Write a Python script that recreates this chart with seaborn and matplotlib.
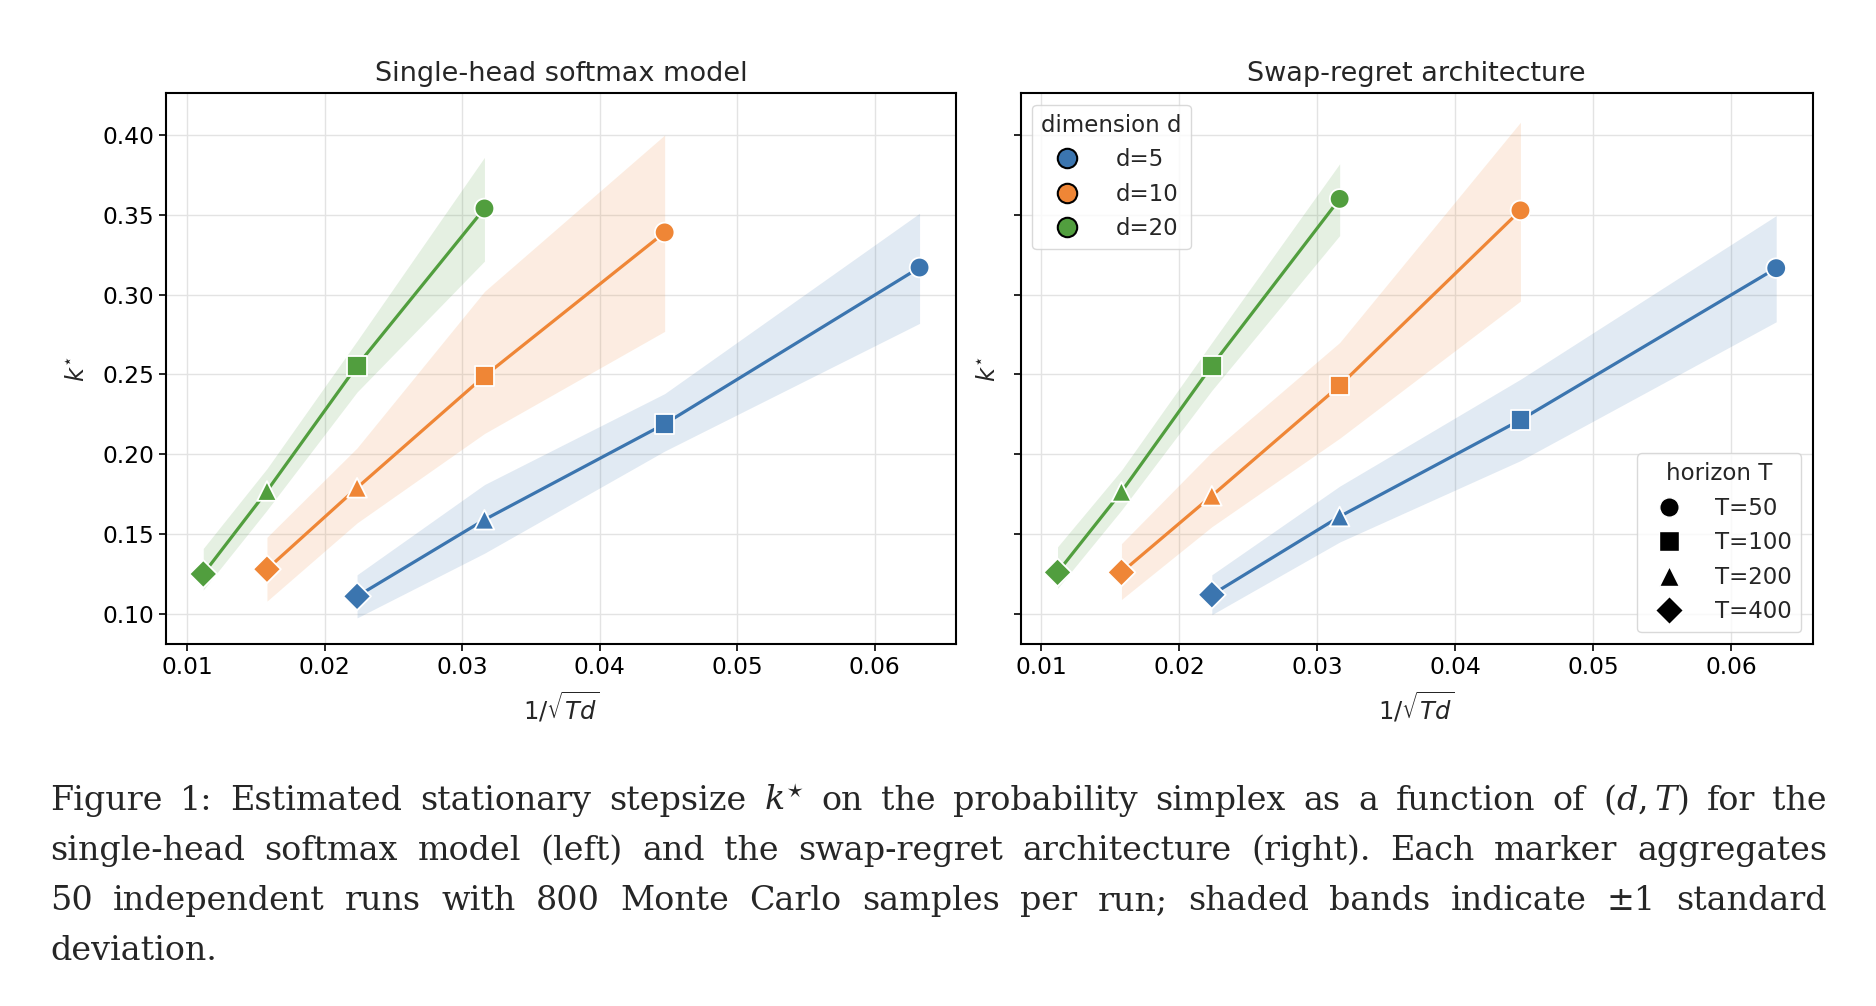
import numpy as np
import pandas as pd
import seaborn as sns
import matplotlib.pyplot as plt
from matplotlib.lines import Line2D

# x positions 1/sqrt(Td) (T = 50, 100, 200, 400)
x_d5 = [0.06325, 0.04472, 0.03162, 0.02236]
x_d10 = [0.04472, 0.03162, 0.02236, 0.01581]
x_d20 = [0.03162, 0.02236, 0.01581, 0.01118]
horizons = ["T=50", "T=100", "T=200", "T=400"]
dims = ["d=5", "d=10", "d=20"]

# single-head softmax model
left_d5 = [0.317, 0.219, 0.159, 0.111]
left_d5_lo = [0.282, 0.202, 0.138, 0.0975]
left_d5_hi = [0.351, 0.238, 0.181, 0.1245]
left_d10 = [0.339, 0.249, 0.179, 0.128]
left_d10_lo = [0.277, 0.213, 0.157, 0.108]
left_d10_hi = [0.400, 0.302, 0.204, 0.148]
left_d20 = [0.354, 0.2555, 0.177, 0.125]
left_d20_lo = [0.321, 0.239, 0.165, 0.115]
left_d20_hi = [0.386, 0.271, 0.191, 0.141]

# swap-regret architecture
right_d5 = [0.3166, 0.2215, 0.161, 0.112]
right_d5_lo = [0.283, 0.196, 0.145, 0.0995]
right_d5_hi = [0.3495, 0.247, 0.180, 0.1245]
right_d10 = [0.3528, 0.243, 0.174, 0.126]
right_d10_lo = [0.296, 0.210, 0.1546, 0.109]
right_d10_hi = [0.408, 0.270, 0.2015, 0.144]
right_d20 = [0.360, 0.2555, 0.1765, 0.126]
right_d20_lo = [0.337, 0.240, 0.165, 0.116]
right_d20_hi = [0.382, 0.270, 0.190, 0.142]

colors = ["#3b75af", "#ef8636", "#519e3e"]
marker_map = {"T=50": "o", "T=100": "s", "T=200": "^", "T=400": "D"}


def make_df(means, los, his):
    rows = []
    for d, xs, m, lo, hi in zip(dims, [x_d5, x_d10, x_d20], means, los, his):
        for T, x, y, a, b in zip(horizons, xs, m, lo, hi):
            rows.append({"x": x, "k": y, "lo": a, "hi": b, "d": d, "T": T})
    return pd.DataFrame(rows)


df_left = make_df([left_d5, left_d10, left_d20],
                  [left_d5_lo, left_d10_lo, left_d20_lo],
                  [left_d5_hi, left_d10_hi, left_d20_hi])
df_right = make_df([right_d5, right_d10, right_d20],
                   [right_d5_lo, right_d10_lo, right_d20_lo],
                   [right_d5_hi, right_d10_hi, right_d20_hi])

sns.set_theme(style="whitegrid")
plt.rcParams.update({
    "axes.edgecolor": "black",
    "axes.linewidth": 1.5,
    "grid.color": "#e3e3e3",
    "grid.linewidth": 1.0,
    "xtick.bottom": True,
    "ytick.left": True,
    "xtick.major.size": 5,
    "ytick.major.size": 5,
    "xtick.color": "black",
    "ytick.color": "black",
})
plt.rcParams["font.family"] = ["DejaVu Sans"]

fig = plt.figure(figsize=(18.76, 10.06), dpi=100)
ax1 = fig.add_axes([0.0887, 0.3601, 0.4209, 0.5474])
ax2 = fig.add_axes([0.5440, 0.3601, 0.4223, 0.5474], sharey=ax1)

palette = dict(zip(dims, colors))

for ax, df, title in [(ax1, df_left, "Single-head softmax model"),
                      (ax2, df_right, "Swap-regret architecture")]:
    for d in dims:
        sub = df[df["d"] == d].sort_values("x")
        ax.fill_between(sub["x"], sub["lo"], sub["hi"], color=palette[d],
                        alpha=0.15, linewidth=0, zorder=1)
    sns.lineplot(data=df, x="x", y="k", hue="d", hue_order=dims,
                 palette=palette, linewidth=2.3, legend=False, ax=ax,
                 sort=True, zorder=2)
    sns.scatterplot(data=df, x="x", y="k", hue="d", hue_order=dims,
                    style="T", style_order=horizons, markers=marker_map,
                    palette=palette, s=200, edgecolor="white", linewidth=1.3,
                    legend=False, ax=ax, zorder=3)
    ax.set_title(title, fontsize=19.5, pad=9)
    ax.set_xlabel(r"$1/\sqrt{Td}$", fontsize=17.5, labelpad=8)
    ax.set_ylabel(r"$k^{\star}$", fontsize=17.5, labelpad=10)
    ax.set_xlim(0.0085, 0.0659)
    ax.set_xticks([0.01, 0.02, 0.03, 0.04, 0.05, 0.06])
    ax.set_xticklabels(["0.01", "0.02", "0.03", "0.04", "0.05", "0.06"])
    ax.tick_params(labelsize=16.8, width=1.2)

ax1.set_ylim(0.0813, 0.4263)
ax1.set_yticks([0.10, 0.15, 0.20, 0.25, 0.30, 0.35, 0.40])
ax1.set_yticklabels(["0.10", "0.15", "0.20", "0.25", "0.30", "0.35", "0.40"])
ax2.tick_params(labelleft=False)

dim_handles = [Line2D([], [], marker="o", linestyle="", markersize=14,
                      markerfacecolor=c, markeredgecolor="black",
                      markeredgewidth=1.5) for c in colors]
leg1 = ax2.legend(dim_handles, dims, title="dimension d", loc="upper left",
                  fontsize=16.5, title_fontsize=16.5, frameon=True,
                  borderpad=0.4, handletextpad=1.1, labelspacing=0.5,
                  borderaxespad=0.5)
leg1.get_frame().set_edgecolor("#d0d0d0")
ax2.add_artist(leg1)

hor_handles = [Line2D([], [], marker=marker_map[T], linestyle="", markersize=14,
                      markerfacecolor="black", markeredgecolor="white",
                      markeredgewidth=1.0) for T in horizons]
leg2 = ax2.legend(hor_handles, horizons, title="horizon T", loc="lower right",
                  fontsize=16.5, title_fontsize=16.5, frameon=True,
                  borderpad=0.4, handletextpad=1.0, labelspacing=0.5,
                  borderaxespad=0.5)
leg2.get_frame().set_edgecolor("#d0d0d0")

# caption, justified word by word
caption_lines = [
    r"Figure 1: Estimated stationary stepsize $k^{\star}$ on the probability simplex as a function of $(d,T)$ for the",
    "single-head softmax model (left) and the swap-regret architecture (right). Each marker aggregates",
    "50 independent runs with 800 Monte Carlo samples per run; shaded bands indicate \u00b11 standard",
    "deviation.",
]
cap_left, cap_right = 50, 1827
cap_base = [810, 860, 910, 960]
cap_font = dict(fontsize=24, family="DejaVu Serif", math_fontfamily="dejavuserif")

fig.canvas.draw()
renderer = fig.canvas.get_renderer()
H = fig.bbox.height
for i, line in enumerate(caption_lines):
    words = line.split(" ")
    # keep math groups intact
    merged = []
    buf = ""
    for w in words:
        if buf:
            buf += " " + w
            if buf.count("$") % 2 == 0:
                merged.append(buf)
                buf = ""
        elif w.count("$") % 2 == 1:
            buf = w
        else:
            merged.append(w)
    texts = [fig.text(0, 1 - cap_base[i] / H, w, va="baseline", ha="left",
                      **cap_font) for w in merged]
    widths = [t.get_window_extent(renderer).width for t in texts]
    if i < len(caption_lines) - 1:
        gap = (cap_right - cap_left - sum(widths)) / (len(texts) - 1)
    else:
        space = fig.text(0, 0, "a b", **cap_font)
        aw = fig.text(0, 0, "ab", **cap_font)
        gap = space.get_window_extent(renderer).width - aw.get_window_extent(renderer).width
        space.remove()
        aw.remove()
    xpos = cap_left
    for t, w in zip(texts, widths):
        t.set_x(xpos / fig.bbox.width)
        xpos += w + gap

fig.savefig("out.png", dpi=100)
